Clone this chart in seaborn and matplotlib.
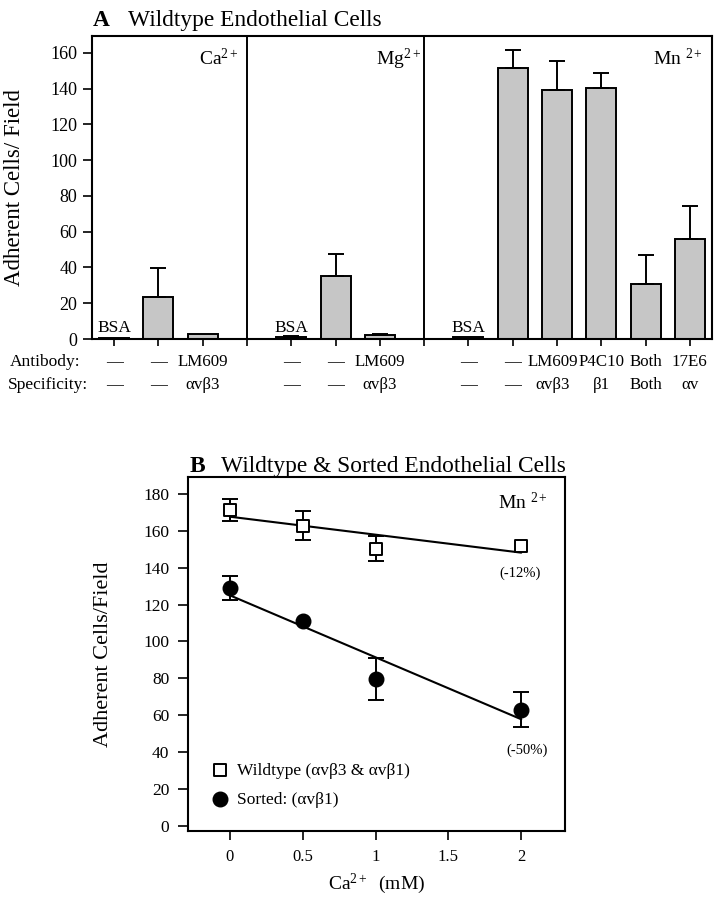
import matplotlib
matplotlib.use("Agg")
import matplotlib.pyplot as plt
import seaborn as sns
import numpy as np
import pandas as pd

# ==================== Data ====================
# Panel A: adherent cells per field for each divalent cation
ions = ["Ca", "Mg", "Mn"]
ion_labels = ["Ca$^{\\mathrm{2+}}$", "Mg$^{\\mathrm{2+}}$", "Mn $^{\\mathrm{2+}}$"]

ca_antibody = ["—", "—", "LM609"]
ca_specificity = ["—", "—", "αvβ3"]
ca_cells = [0.7, 23.5, 2.8]
ca_err = [0.0, 16.0, 0.0]

mg_antibody = ["—", "—", "LM609"]
mg_specificity = ["—", "—", "αvβ3"]
mg_cells = [0.9, 35.0, 2.1]
mg_err = [0.6, 12.5, 0.5]

mn_antibody = ["—", "—", "LM609", "P4C10", "Both", "17E6"]
mn_specificity = ["—", "—", "αvβ3", "β1", "Both", "αv"]
mn_cells = [1.2, 151.5, 139.5, 140.5, 31.0, 56.0]
mn_err = [0.0, 10.0, 16.0, 8.5, 16.0, 18.5]

# Panel B: cells vs Ca2+ concentration in presence of Mn2+
ca_conc = [0, 0.5, 1, 2]
wildtype_cells = [171.5, 163.0, 150.5, 152.0]
wildtype_err = [6.0, 8.0, 7.0, 0.0]
sorted_cells = [129.0, 111.0, 79.5, 63.0]
sorted_err = [6.7, 0.0, 11.5, 9.5]
change_labels = ["(-12%)", "(-50%)"]

# ==================== Style ====================
sns.set_style("ticks")
plt.rcParams.update({
    'font.family': ['Liberation Serif', 'DejaVu Serif'],
    'mathtext.fontset': 'custom',
    'mathtext.rm': 'Liberation Serif',
    'mathtext.it': 'Liberation Serif:italic',
    'mathtext.bf': 'Liberation Serif:bold',
    'axes.edgecolor': 'black',
    'axes.linewidth': 1.5,
    'xtick.color': 'black',
    'ytick.color': 'black',
    'text.color': 'black',
    'axes.labelcolor': 'black',
})

W, H = 716, 899
fig = plt.figure(figsize=(W / 100, H / 100), dpi=100)
axA = fig.add_axes([92 / W, 1 - 339 / H, 620 / W, 303 / H])
axB = fig.add_axes([187.5 / W, 1 - 830.7 / H, 377.5 / W, 353.4 / H])

# ==================== Panel A ====================
groups = [
    (ca_antibody, ca_specificity, ca_cells, ca_err),
    (mg_antibody, mg_specificity, mg_cells, mg_err),
    (mn_antibody, mn_specificity, mn_cells, mn_err),
]

rows = []
dividers = []
slot = 0
for ion, (ab, spec, cells, err) in zip(ions, groups):
    for i in range(len(cells)):
        rows.append({"pos": slot + i, "ion": ion, "antibody": ab[i],
                     "specificity": spec[i], "cells": cells[i], "err": err[i],
                     "bsa": i == 0})
    slot += len(cells)
    dividers.append(slot)
    slot += 1
dividers = dividers[:-1]
df_a = pd.DataFrame(rows)

sns.barplot(data=df_a, x="pos", y="cells", native_scale=True, width=0.68,
            color="#c6c6c6", saturation=1, edgecolor="black", linewidth=1.4,
            errorbar=None, ax=axA)

has_err = df_a[df_a["err"] > 0]
axA.errorbar(has_err["pos"], has_err["cells"],
             yerr=[np.zeros(len(has_err)), has_err["err"]],
             fmt='none', ecolor='black', elinewidth=1.4, capsize=5.5, capthick=1.4)

for d in dividers:
    axA.axvline(d, color='black', lw=1.4)

axA.set_xlim(-0.5, slot - 1.5)
axA.set_ylim(0, 169.5)
axA.set_yticks(range(0, 161, 20))
axA.set_xticks(sorted(list(df_a["pos"]) + dividers))
axA.tick_params(axis='x', length=5, width=1.2, labelbottom=False)
axA.tick_params(axis='y', length=6.5, width=1.2, pad=4, labelsize=13)
axA.set_xlabel("")
axA.set_ylabel("Adherent Cells/ Field", fontsize=16.5)
axA.yaxis.set_label_coords(-0.108, 0.5)

# the Mn LM609 label sits a little left of its bar in the original
xt = axA.get_xaxis_transform()
for _, r in df_a.iterrows():
    nudge = -0.1 if (r["ion"] == "Mn" and r["antibody"] == "LM609") else 0.0
    axA.text(r["pos"] + nudge, -0.076, r["antibody"], transform=xt, ha='center',
             va='center', fontsize=12.2)
    axA.text(r["pos"] + nudge, -0.152, r["specificity"], transform=xt,
             ha='center', va='center', fontsize=12.2)
    if r["bsa"]:
        axA.text(r["pos"], 4, "BSA", ha='center', va='baseline', fontsize=12.5)

fig.text(10 / W, 1 - 362 / H, "Antibody:", ha='left', va='center', fontsize=12.5)
fig.text(8 / W, 1 - 385 / H, "Specificity:", ha='left', va='center', fontsize=12.5)

right_edges = dividers + [slot - 1.5]
offsets = [0.18, 0.08, 0.2]
for lab, xr, off in zip(ion_labels, right_edges, offsets):
    axA.text(xr - off, 153, lab, ha='right', va='baseline', fontsize=14)

fig.text(93 / W, 1 - 26 / H, "A", fontsize=16.8, fontweight='bold', va='baseline')
fig.text(128 / W, 1 - 26 / H, "Wildtype Endothelial Cells", fontsize=16.8, va='baseline')

# ==================== Panel B ====================
sns.regplot(x=ca_conc, y=wildtype_cells, ci=None, scatter=False, color='black',
            line_kws={'lw': 1.5}, ax=axB)
sns.regplot(x=ca_conc, y=sorted_cells, ci=None, scatter=False, color='black',
            line_kws={'lw': 1.5}, ax=axB)

for vals, err in [(wildtype_cells, wildtype_err), (sorted_cells, sorted_err)]:
    x = np.array(ca_conc, dtype=float)
    v = np.array(vals)
    e = np.array(err)
    m = e > 0
    axB.errorbar(x[m], v[m], yerr=e[m], fmt='none', ecolor='black',
                 elinewidth=1.4, capsize=5.5, capthick=1.4, zorder=3)

sns.scatterplot(x=ca_conc, y=wildtype_cells, marker='s', s=75, color='white',
                edgecolor='black', linewidth=1.4, zorder=5, ax=axB,
                label="Wildtype (αvβ3 & αvβ1)")
sns.scatterplot(x=ca_conc, y=sorted_cells, marker='o', s=110, color='black',
                edgecolor='black', linewidth=1, zorder=5, ax=axB,
                label="Sorted: (αvβ1)")

axB.legend(loc='lower left', bbox_to_anchor=(0.04, 0.065), frameon=False,
           fontsize=12.5, handletextpad=0.0, labelspacing=0.75, borderaxespad=0,
           borderpad=0)

axB.text(1.99, 137, change_labels[0], ha='center', va='center', fontsize=10.5)
axB.text(2.04, 41, change_labels[1], ha='center', va='center', fontsize=10.5)
axB.text(1.84, 172, "Mn $^{\\mathrm{2+}}$", ha='left', va='baseline', fontsize=14)

axB.set_xlim(-0.29, 2.3)
axB.set_ylim(-2.8, 189.2)
axB.set_xticks(ca_conc[:3] + [1.5, 2])
axB.set_xticklabels(["0", "0.5", "1", "1.5", "2"])
axB.set_yticks(range(0, 181, 20))
axB.tick_params(axis='x', length=6.5, width=1.2, pad=7, labelsize=12)
axB.tick_params(axis='y', length=7, width=1.2, pad=6, labelsize=12.5)
axB.set_xlabel("Ca$^{\\mathrm{2+}}$  (mM)", fontsize=14)
axB.xaxis.set_label_coords(0.5, -0.115)
axB.set_ylabel("Adherent Cells/Field", fontsize=16)
axB.yaxis.set_label_coords(-0.197, 0.5)

fig.text(190 / W, 1 - 471.6 / H, "B", fontsize=16.8, fontweight='bold', va='baseline')
fig.text(221 / W, 1 - 471.6 / H, "Wildtype & Sorted Endothelial Cells", fontsize=16.8,
         va='baseline')

fig.savefig("out.png", dpi=100)
